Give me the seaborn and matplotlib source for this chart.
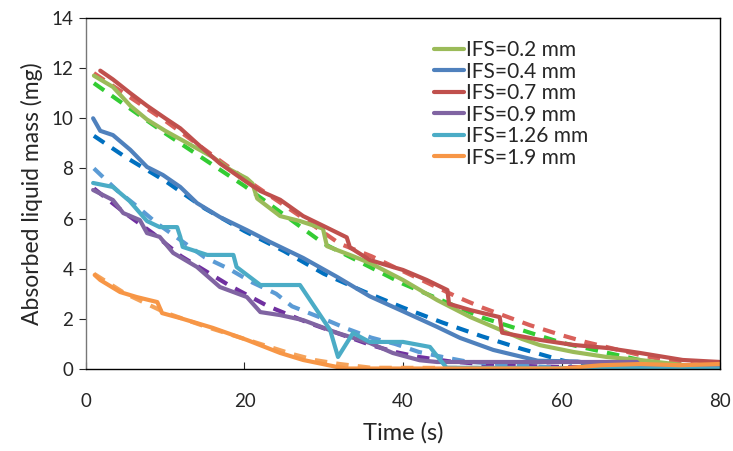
import numpy as np
import pandas as pd
import matplotlib
matplotlib.use("Agg")
import matplotlib.pyplot as plt
import seaborn as sns

# === Data ===
# experimental curves (solid)
t_02 = [1, 3.4, 5.6, 7.7, 10, 12, 14, 16, 18.2, 20.3, 21, 21.6, 24.5, 27, 29.9, 30.4, 33.7, 36, 40, 44.3, 48.5, 52, 55, 57.3, 61.5, 65.7, 69.9, 75.3, 80]
m_02 = [11.7, 11.25, 10.5, 9.95, 9.5, 9.15, 8.8, 8.45, 7.95, 7.6, 7.4, 6.8, 6.1, 5.9, 5.6, 4.9, 4.5, 4.2, 3.55, 2.75, 2.07, 1.6, 1.2, 0.95, 0.68, 0.48, 0.36, 0.16, 0.08]

t_04 = [0.9, 1.8, 3.4, 5.6, 7.7, 9.7, 11.9, 14, 16.9, 20.3, 23.2, 27.4, 31.7, 35.8, 40, 44.3, 47.2, 51.4, 55.6, 57, 62, 65, 70, 80]
m_04 = [10.0, 9.5, 9.33, 8.74, 8.06, 7.74, 7.26, 6.62, 6.06, 5.54, 5.07, 4.43, 3.67, 2.9, 2.3, 1.68, 1.24, 0.76, 0.44, 0.33, 0.3, 0.15, 0.1, 0.05]

t_07 = [1.8, 3.4, 5.6, 7.7, 10, 11.9, 14, 16.9, 20.3, 22, 24.5, 27.4, 30, 32.9, 33.3, 35.8, 38.7, 40, 43, 45.6, 45.8, 48.5, 52.2, 52.5, 57.3, 61.5, 65.7, 69.9, 75.3, 80]
m_07 = [11.9, 11.55, 11.0, 10.5, 10.0, 9.6, 9.0, 8.2, 7.45, 7.1, 6.75, 6.1, 5.7, 5.25, 4.85, 4.35, 4.07, 3.95, 3.55, 3.15, 2.6, 2.35, 2.07, 1.45, 1.16, 0.96, 0.84, 0.64, 0.36, 0.28]

t_09 = [0.9, 3.4, 4.7, 6.8, 7.7, 9.3, 11, 14, 16.9, 20.3, 22, 24.5, 27.4, 31.7, 35.8, 38.7, 42.1, 44.3, 69.5, 70, 80]
m_09 = [7.14, 6.74, 6.22, 5.94, 5.42, 5.27, 4.63, 4.07, 3.27, 2.87, 2.27, 2.15, 1.95, 1.44, 1.04, 0.64, 0.35, 0.28, 0.28, 0.12, 0.1]

t_126 = [0.9, 3.4, 5.5, 7.7, 9.3, 11.5, 11.9, 12.2, 15.3, 18.6, 19, 22, 27, 30.8, 31.8, 33.7, 34.6, 35.8, 40, 43.4, 44.7, 45.5, 80]
m_126 = [7.42, 7.26, 6.7, 5.9, 5.66, 5.66, 5.27, 4.87, 4.55, 4.55, 4.07, 3.35, 3.35, 1.56, 0.48, 1.44, 1.28, 1.08, 1.08, 0.88, 0.36, 0.05, 0.02]

t_19 = [1.1, 1.8, 4.3, 6.4, 9, 9.6, 11.9, 16, 20.3, 24.5, 27.4, 31.7, 33, 60, 65, 70, 75, 80]
m_19 = [3.75, 3.55, 3.07, 2.87, 2.67, 2.23, 2.03, 1.64, 1.16, 0.64, 0.36, 0.08, 0.02, 0.02, 0.15, 0.2, 0.15, 0.2]

# model curves (dashed)
tm_02 = [1, 10, 20, 30, 40, 50, 60, 70, 75]
mm_02 = [11.4, 9.4, 7.3, 5.0, 3.4, 2.05, 1.05, 0.35, 0.05]

tm_04 = [1, 5, 10, 15, 20, 25, 30, 35, 40, 45, 50, 55, 60, 64]
mm_04 = [9.3, 8.45, 7.5, 6.4, 5.5, 4.7, 3.8, 3.1, 2.45, 1.85, 1.3, 0.8, 0.35, 0.05]

tm_07 = [1, 10, 20, 27, 32, 36, 47, 50, 56, 60, 63, 70, 75, 80]
mm_07 = [11.8, 9.9, 7.6, 6.1, 5.0, 4.5, 2.85, 2.45, 1.75, 1.35, 1.08, 0.55, 0.25, 0.05]

tm_09 = [1, 5, 8.5, 12, 18, 23, 28, 32, 36, 39, 42, 46, 52, 60, 80]
mm_09 = [7.2, 6.2, 5.4, 4.5, 3.35, 2.5, 1.85, 1.4, 0.95, 0.68, 0.48, 0.3, 0.15, 0.08, 0.05]

tm_126 = [1, 4, 6, 9, 15, 18, 21, 24, 26, 30, 33, 36, 39, 42, 45, 48, 54, 60]
mm_126 = [8.0, 7.1, 6.6, 5.8, 4.45, 4.0, 3.45, 3.0, 2.5, 2.0, 1.6, 1.25, 1.0, 0.68, 0.48, 0.3, 0.15, 0.05]

tm_19 = [1, 5, 10, 15, 20, 23, 26, 29, 32, 36, 80]
mm_19 = [3.8, 3.0, 2.25, 1.7, 1.2, 0.9, 0.6, 0.35, 0.2, 0.05, 0.02]

labels = ["IFS=0.2 mm", "IFS=0.4 mm", "IFS=0.7 mm", "IFS=0.9 mm", "IFS=1.26 mm", "IFS=1.9 mm"]
exp_data = [(t_02, m_02), (t_04, m_04), (t_07, m_07), (t_09, m_09), (t_126, m_126), (t_19, m_19)]
mod_data = [(tm_02, mm_02), (tm_04, mm_04), (tm_07, mm_07), (tm_09, mm_09), (tm_126, mm_126), (tm_19, mm_19)]

solid_colors = ["#9BBB59", "#4F81BD", "#C0504D", "#8064A2", "#4BACC6", "#F79646"]
dash_colors = ["#33CC33", "#0070C0", "#D9605A", "#7030A0", "#5B9BD5", "#F5A35A"]

# === Plot ===
sns.set_style("ticks")
plt.rcParams['font.family'] = ['Lato', 'DejaVu Sans']

fig = plt.figure(figsize=(7.33, 4.51), dpi=100)
ax = fig.add_axes([0.1173, 0.1818, 0.865, 0.7783])

lw = 3.0
# dashed model lines first, experiments on top
for (t, m), c in zip(mod_data, dash_colors):
    sns.lineplot(x=t, y=m, ax=ax, color=c, lw=lw, estimator=None, sort=False,
                 dashes=False, linestyle=(0, (3.0, 2.2)), legend=False)
for (t, m), c, lab in zip(exp_data, solid_colors, labels):
    sns.lineplot(x=t, y=m, ax=ax, color=c, lw=lw, estimator=None, sort=False,
                 label=lab)

ax.set_xlim(0, 80)
ax.set_ylim(0, 14)
ax.set_xticks([0, 20, 40, 60, 80])
ax.set_yticks(range(0, 15, 2))
ax.tick_params(axis='x', direction='in', length=5, pad=17, labelsize=13.5)
ax.tick_params(axis='y', direction='out', length=5, pad=4, labelsize=13.5)
for s in ax.spines.values():
    s.set_visible(True)
    s.set_color("black")
    s.set_linewidth(1.0)
ax.spines['left'].set_color("#777777")

ax.set_xlabel("Time (s)", fontsize=17, labelpad=9)
ax.set_ylabel("Absorbed liquid mass (mg)", fontsize=16.5, labelpad=6)

ax.legend(loc='upper left', bbox_to_anchor=(0.52, 0.99), frameon=False,
          fontsize=15, handlelength=1.4, handletextpad=0.1, labelspacing=0.07)

fig.savefig("out.png", dpi=100)
